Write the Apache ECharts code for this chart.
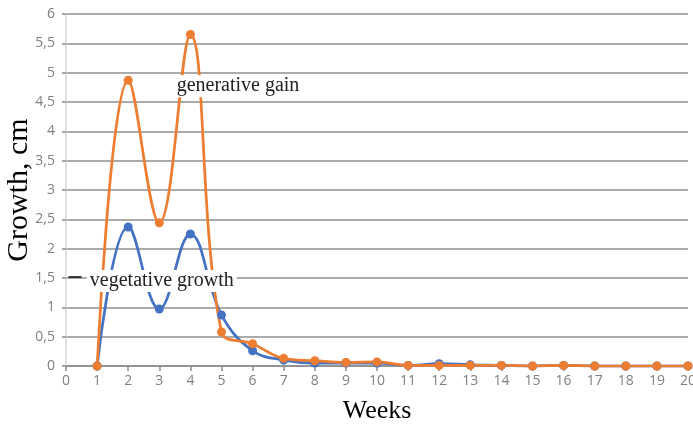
<!DOCTYPE html>
<html><head><meta charset="utf-8">
<script src="https://cdn.jsdelivr.net/npm/echarts@6/dist/echarts.min.js"></script>
<style>html,body{margin:0;padding:0;background:#fff}#c{width:693px;height:424px}</style>
</head><body><div id="c"></div>
<script>
const weeks = [1,2,3,4,5,6,7,8,9,10,11,12,13,14,15,16,17,18,19,20];
const vegetative = [0,2.37,0.97,2.25,0.87,0.26,0.1,0.05,0.05,0.05,0.01,0.04,0.02,0.01,0,0.01,0,0,0,0];
const generative = [0,4.87,2.44,5.65,0.58,0.38,0.13,0.09,0.06,0.07,0.01,0.01,0.01,0.01,0,0.01,0,0,0,0];
const yTicks = [0,0.5,1,1.5,2,2.5,3,3.5,4,4.5,5,5.5,6];

const chart = echarts.init(document.getElementById('c'));
const lbl = {color:'#222', fontFamily:'Liberation Serif', fontSize:20, backgroundColor:'#fff', padding:[1,3]};
chart.setOption({
  animation:false,
  grid:{left:66,right:5,top:14,bottom:58,outerBoundsMode:'none',containLabel:false},
  xAxis:{type:'value',min:0,max:20,interval:1,
    name:'Weeks',nameLocation:'middle',nameGap:32,nameMoveOverlap:false,
    nameTextStyle:{fontFamily:'Liberation Serif',fontSize:26,color:'#000'},
    axisLine:{lineStyle:{color:'#8c8c8c',width:1.5}},
    axisTick:{show:true,length:5,lineStyle:{color:'#8c8c8c',width:1.5}},
    axisLabel:{color:'#808080',fontSize:14,fontFamily:'Open Sans',margin:8,showMaxLabel:true},
    splitLine:{show:false}},
  yAxis:{type:'value',min:yTicks[0],max:yTicks[yTicks.length-1],interval:0.5,
    name:'Growth, cm',nameLocation:'middle',nameGap:32,nameMoveOverlap:false,
    nameTextStyle:{fontFamily:'Liberation Serif',fontSize:30,color:'#000'},
    axisLine:{show:true,lineStyle:{color:'#d9d9d9',width:1.5}},
    axisTick:{show:true,length:4,lineStyle:{color:'#8c8c8c',width:1.5}},
    axisLabel:{color:'#808080',fontSize:14,fontFamily:'Open Sans',margin:11,
      formatter:v=>String(v).replace('.',',')},
    splitLine:{lineStyle:{color:'#8f8f8f',width:1.5}}},
  series:[
    {name:'vegetative growth',type:'line',smooth:0.4,
     data:weeks.map((w,i)=>[w,vegetative[i]]),
     symbol:'circle',symbolSize:9,
     lineStyle:{color:'#4472C4',width:2.75},itemStyle:{color:'#4472C4'},
     markPoint:{symbol:'circle',symbolSize:0,silent:true,
       data:[{coord:[3.08,1.45],label:Object.assign({show:true,formatter:'vegetative growth',position:'inside'},lbl)}]},
     markLine:{symbol:'none',silent:true,label:{show:false},lineStyle:{color:'#000',width:1.5,type:'solid'},
       data:[[{coord:[0.08,1.52]},{coord:[0.5,1.52]}]]}
    },
    {name:'generative gain',type:'line',smooth:0.4,
     data:weeks.map((w,i)=>[w,generative[i]]),
     symbol:'circle',symbolSize:9,
     lineStyle:{color:'#ED7D31',width:2.75},itemStyle:{color:'#ED7D31'},
     markPoint:{symbol:'circle',symbolSize:0,silent:true,
       data:[{coord:[5.53,4.77],label:Object.assign({show:true,formatter:'generative gain',position:'inside'},lbl)}]}
    }
  ]
});
</script></body></html>
